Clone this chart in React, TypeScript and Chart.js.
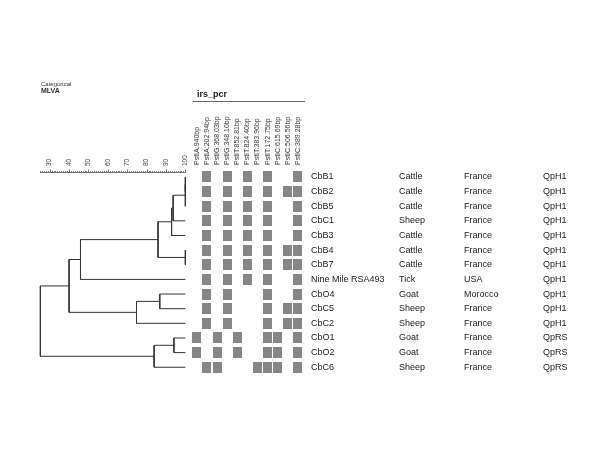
import React, { useEffect, useRef } from 'react';
import { Chart, registerables } from 'chart.js';
Chart.register(...registerables);

// ---- data ----
const strains = ['CbB1', 'CbB2', 'CbB5', 'CbC1', 'CbB3', 'CbB4', 'CbB7', 'Nine Mile RSA493', 'CbO4', 'CbC5', 'CbC2', 'CbO1', 'CbO2', 'CbC6'];
const hosts = ['Cattle', 'Cattle', 'Cattle', 'Sheep', 'Cattle', 'Cattle', 'Cattle', 'Tick', 'Goat', 'Sheep', 'Sheep', 'Goat', 'Goat', 'Sheep'];
const countries = ['France', 'France', 'France', 'France', 'France', 'France', 'France', 'USA', 'Morocco', 'France', 'France', 'France', 'France', 'France'];
const genotypes = ['QpH1', 'QpH1', 'QpH1', 'QpH1', 'QpH1', 'QpH1', 'QpH1', 'QpH1', 'QpH1', 'QpH1', 'QpH1', 'QpRS', 'QpRS', 'QpRS'];
const markers = ['PstIA:940bp', 'PstIA:202.94bp', 'PstIG:368.03bp', 'PstIG:348.10bp', 'PstIT:852.81bp', 'PstIT:824.40bp', 'PstIT:383.96bp', 'PstIT:172.75bp', 'PstIC:615.69bp', 'PstIC:506.56bp', 'PstIC:389.28bp'];
const profiles = [
  [0, 1, 0, 1, 0, 1, 0, 1, 0, 0, 1],
  [0, 1, 0, 1, 0, 1, 0, 1, 0, 1, 1],
  [0, 1, 0, 1, 0, 1, 0, 1, 0, 0, 1],
  [0, 1, 0, 1, 0, 1, 0, 1, 0, 0, 1],
  [0, 1, 0, 1, 0, 1, 0, 1, 0, 0, 1],
  [0, 1, 0, 1, 0, 1, 0, 1, 0, 1, 1],
  [0, 1, 0, 1, 0, 1, 0, 1, 0, 1, 1],
  [0, 1, 0, 1, 0, 1, 0, 1, 0, 0, 1],
  [0, 1, 0, 1, 0, 0, 0, 1, 0, 0, 1],
  [0, 1, 0, 1, 0, 0, 0, 1, 0, 1, 1],
  [0, 1, 0, 1, 0, 0, 0, 1, 0, 1, 1],
  [1, 0, 1, 0, 1, 0, 0, 1, 1, 0, 1],
  [1, 0, 1, 0, 1, 0, 0, 1, 1, 0, 1],
  [0, 1, 1, 0, 0, 0, 1, 1, 1, 0, 1],
];
// dendrogram merges: node ids 0..13 leaves, 14.. internal (in order)
const mergeLeft = [0, 14, 15, 16, 5, 17, 19, 8, 21, 20, 11, 24, 23];
const mergeRight = [1, 2, 3, 4, 6, 18, 7, 9, 10, 22, 12, 13, 25];
const mergeSimilarity = [100, 100, 93.7, 92.9, 100, 85.9, 45.9, 86.8, 74.8, 40.0, 94.1, 83.9, 25.2];
const similarityTicks = [30, 40, 50, 60, 70, 80, 90, 100];

// ---- layout helpers ----
const W = 600;
const H = 450;
const PAD = 0.5; // chart.js min overflow padding from 1px lines
function linFit(v0: number, p0: number, v1: number, p1: number, size: number) {
  const k = (p1 - p0) / (v1 - v0);
  const min = v0 - (p0 - PAD) / k;
  return { min, max: min + (size - 2 * PAD) / k };
}
const simRange = linFit(30, 50, 100, 185.5, W);
const colRange = linFit(0, 197, 10, 298, W);
const rowRange = linFit(0, 177, 13, 367, H);
const FONT = '"Liberation Sans", Arial, sans-serif';

function buildTree() {
  const n = strains.length;
  const xs: number[] = [];
  const ys: number[] = [];
  for (let i = 0; i < n; i++) { xs.push(100); ys.push(i); }
  const segs: { x: number; y: number }[][] = [];
  mergeLeft.forEach((a, i) => {
    const b = mergeRight[i];
    const s = mergeSimilarity[i];
    segs.push([
      { x: xs[a], y: ys[a] },
      { x: s, y: ys[a] },
      { x: s, y: ys[b] },
      { x: xs[b], y: ys[b] },
    ]);
    xs.push(s);
    ys.push((ys[a] + ys[b]) / 2);
  });
  return segs;
}

export default function App() {
  const ref = useRef<HTMLCanvasElement | null>(null);
  useEffect(() => {
    if (!ref.current) return;
    const cell = document.createElement('canvas');
    cell.width = 9;
    cell.height = 11;
    const cctx = cell.getContext('2d')!;
    cctx.fillStyle = '#868686';
    cctx.fillRect(0, 0, 9, 11);

    const cellPoints: { x: number; y: number }[] = [];
    profiles.forEach((row, r) => row.forEach((v, c) => { if (v) cellPoints.push({ x: c, y: r }); }));

    const treeDatasets = buildTree().map((seg) => ({
      type: 'scatter' as const,
      data: seg,
      showLine: true,
      borderColor: '#333',
      borderWidth: 1,
      pointRadius: 0,
      pointHoverRadius: 0,
      pointBorderWidth: 0,
      xAxisID: 'x',
      yAxisID: 'y',
    }));

    const textPlugin = {
      id: 'texts',
      afterDatasetsDraw(chart: any) {
        const ctx = chart.ctx as CanvasRenderingContext2D;
        const xs = chart.scales.x;
        const xm = chart.scales.xm;
        const ys = chart.scales.y;
        ctx.save();
        // titles
        ctx.fillStyle = '#333';
        ctx.textBaseline = 'middle';
        ctx.textAlign = 'left';
        ctx.font = `6px ${FONT}`;
        ctx.fillText('Categorical', 41, 84.5);
        ctx.font = `bold 7px ${FONT}`;
        ctx.fillText('MLVA', 41, 91.5);
        ctx.font = `bold 9px ${FONT}`;
        ctx.fillStyle = '#222';
        ctx.fillText('irs_pcr', 197, 95);
        ctx.strokeStyle = '#666';
        ctx.lineWidth = 1;
        ctx.beginPath();
        ctx.moveTo(xm.getPixelForValue(-0.4), 101.5);
        ctx.lineTo(xm.getPixelForValue(10.7), 101.5);
        ctx.stroke();

        // similarity axis
        const axY = 172.5;
        ctx.strokeStyle = '#777';
        ctx.beginPath();
        ctx.moveTo(xs.getPixelForValue(25), axY);
        ctx.lineTo(xs.getPixelForValue(100), axY);
        for (let v = 25; v <= 100; v++) {
          const px = Math.round(xs.getPixelForValue(v)) + 0.5;
          ctx.moveTo(px, axY);
          ctx.lineTo(px, axY - (v % 10 === 0 ? 3 : 1.5));
        }
        ctx.stroke();
        ctx.fillStyle = '#444';
        ctx.font = `6.5px ${FONT}`;
        similarityTicks.forEach((v) => {
          ctx.save();
          ctx.translate(xs.getPixelForValue(v), 166);
          ctx.rotate(-Math.PI / 2);
          ctx.textAlign = 'left';
          ctx.textBaseline = 'middle';
          ctx.fillText(String(v), 0, 0);
          ctx.restore();
        });

        // marker column labels
        ctx.fillStyle = '#333';
        ctx.font = `7px ${FONT}`;
        markers.forEach((m, c) => {
          ctx.save();
          ctx.translate(xm.getPixelForValue(c), 165);
          ctx.rotate(-Math.PI / 2);
          ctx.textAlign = 'left';
          ctx.textBaseline = 'middle';
          ctx.fillText(m, 0, 0);
          ctx.restore();
        });

        // row texts
        ctx.fillStyle = '#222';
        ctx.font = `9px ${FONT}`;
        ctx.textAlign = 'left';
        ctx.textBaseline = 'middle';
        strains.forEach((s, r) => {
          const py = ys.getPixelForValue(r);
          ctx.fillText(s, 311, py);
          ctx.fillText(hosts[r], 399, py);
          ctx.fillText(countries[r], 464, py);
          ctx.fillText(genotypes[r], 543, py);
        });
        ctx.restore();
      },
    };

    const chart = new Chart(ref.current, {
      type: 'scatter',
      data: {
        datasets: [
          ...treeDatasets,
          {
            type: 'scatter' as const,
            data: cellPoints,
            pointStyle: cell,
            pointRadius: 0.1,
            pointHoverRadius: 0,
            pointBorderWidth: 0,
            borderWidth: 0,
            showLine: false,
            xAxisID: 'xm',
            yAxisID: 'y',
          } as any,
        ],
      },
      options: {
        animation: false,
        responsive: false,
        devicePixelRatio: 1,
        layout: { padding: 0 },
        plugins: { legend: { display: false }, tooltip: { enabled: false } },
        events: [],
        scales: {
          x: { type: 'linear', display: false, min: simRange.min, max: simRange.max },
          xm: { type: 'linear', axis: 'x', display: false, min: colRange.min, max: colRange.max },
          y: { type: 'linear', display: false, reverse: true, min: rowRange.min, max: rowRange.max },
        },
      } as any,
      plugins: [textPlugin],
    });
    return () => chart.destroy();
  }, []);
  return (
    <div style={{ position: 'fixed', left: 0, top: 0, width: W, height: H, background: '#fff' }}>
      <canvas ref={ref} width={W} height={H} style={{ display: 'block' }} />
    </div>
  );
}
